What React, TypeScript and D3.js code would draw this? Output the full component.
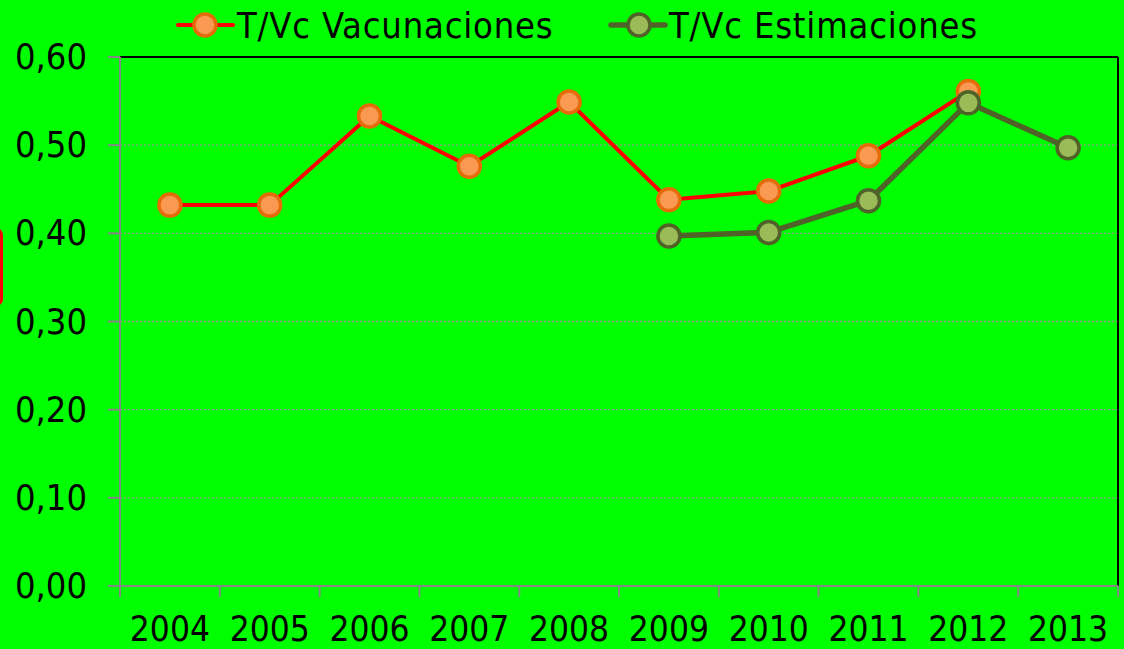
import React, { useEffect } from "react";
import * as d3 from "d3";

const years = ["2004", "2005", "2006", "2007", "2008", "2009", "2010", "2011", "2012", "2013"];
const vacunaciones: (number | null)[] = [0.432, 0.432, 0.533, 0.476, 0.549, 0.438, 0.448, 0.488, 0.561, null];
const estimaciones: (number | null)[] = [null, null, null, null, null, 0.397, 0.401, 0.437, 0.548, 0.497];
const yTicks = [0, 0.1, 0.2, 0.3, 0.4, 0.5, 0.6];
const seriesNames = ["T/Vc Vacunaciones", "T/Vc Estimaciones"];

const W = 1124, H = 649;
const L = 120, R = 1118, T = 57, B = 586;
const FONT = "'DejaVu Sans Condensed', 'DejaVu Sans', sans-serif";

export default function App() {
  useEffect(() => {
    document.body.style.margin = "0";
    document.body.style.background = "#00ff00";
  }, []);

  const x = d3.scaleBand<string>().domain(years).range([L, R]);
  const y = d3.scaleLinear().domain([0, 0.6]).range([B, T]);
  const cx = (d: string) => (x(d) as number) + x.bandwidth() / 2;

  const mk = (vals: (number | null)[]) =>
    d3
      .line<number | null>()
      .defined((d) => d !== null)
      .x((_, i) => cx(years[i]))
      .y((d) => y(d as number))(vals) || "";

  const styles = [
    { line: "#ff0000", lw: 4, fill: "#fa9a52", stroke: "#e46c0a" },
    { line: "#4f6228", lw: 5.5, fill: "#9bbb59", stroke: "#4f6228" },
  ];
  const data = [vacunaciones, estimaciones];
  const legend = [
    { x1: 178, x2: 233, cx: 205, tx: 237 },
    { x1: 611, x2: 665, cx: 639, tx: 669 },
  ];

  return (
    <svg width={W} height={H} style={{ display: "block", background: "#00ff00" }} fontFamily={FONT}>
      <rect x={0} y={0} width={W} height={H} fill="#00ff00" />
      <rect x={-16} y={228} width={19} height={78} rx={7} fill="#ff0000" />
      {/* gridlines */}
      {yTicks.slice(1, -1).map((t) => (
        <line key={t} x1={L} x2={R} y1={y(t)} y2={y(t)} stroke="#9a9a9a" strokeWidth={1.3} strokeDasharray="2,2" />
      ))}
      {/* top & right border */}
      <line x1={L} x2={R} y1={T} y2={T} stroke="#000" strokeWidth={2} />
      <line x1={R} x2={R} y1={T} y2={B} stroke="#000" strokeWidth={2} />
      {/* y axis */}
      <line x1={L} x2={L} y1={T} y2={B} stroke="#868686" strokeWidth={2} />
      {yTicks.map((t) => (
        <g key={t}>
          <line x1={108} x2={L} y1={y(t)} y2={y(t)} stroke="#868686" strokeWidth={2} />
          <text x={87} y={y(t) + 12} textAnchor="end" fontSize={36} fill="#000">
            {d3.format(".2f")(t).replace(".", ",")}
          </text>
        </g>
      ))}
      {/* x axis */}
      <line x1={L} x2={R} y1={B} y2={B} stroke="#868686" strokeWidth={2} />
      {years.map((yr) => (
        <line key={"t" + yr} x1={x(yr) as number} x2={x(yr) as number} y1={B} y2={B + 11} stroke="#868686" strokeWidth={2} />
      ))}
      <line x1={R} x2={R} y1={B} y2={B + 11} stroke="#868686" strokeWidth={2} />
      {years.map((yr) => (
        <text key={yr} x={cx(yr)} y={641} textAnchor="middle" fontSize={35} fill="#000">
          {yr}
        </text>
      ))}
      {/* series */}
      {data.map((vals, si) => (
        <g key={si}>
          <path d={mk(vals)} fill="none" stroke={styles[si].line} strokeWidth={styles[si].lw} strokeLinejoin="round" />
          {vals.map((v, i) =>
            v === null ? null : (
              <circle key={i} cx={cx(years[i])} cy={y(v)} r={11} fill={styles[si].fill} stroke={styles[si].stroke} strokeWidth={3.5} />
            )
          )}
        </g>
      ))}
      {/* legend */}
      {legend.map((lg, si) => (
        <g key={"lg" + si}>
          <line x1={lg.x1} x2={lg.x2} y1={25} y2={25} stroke={styles[si].line} strokeWidth={styles[si].lw} strokeLinecap="round" />
          <circle cx={lg.cx} cy={25} r={11} fill={styles[si].fill} stroke={styles[si].stroke} strokeWidth={3.5} />
          <text x={lg.tx} y={38} fontSize={36} letterSpacing={0.8} fill="#000">
            {seriesNames[si]}
          </text>
        </g>
      ))}
    </svg>
  );
}
